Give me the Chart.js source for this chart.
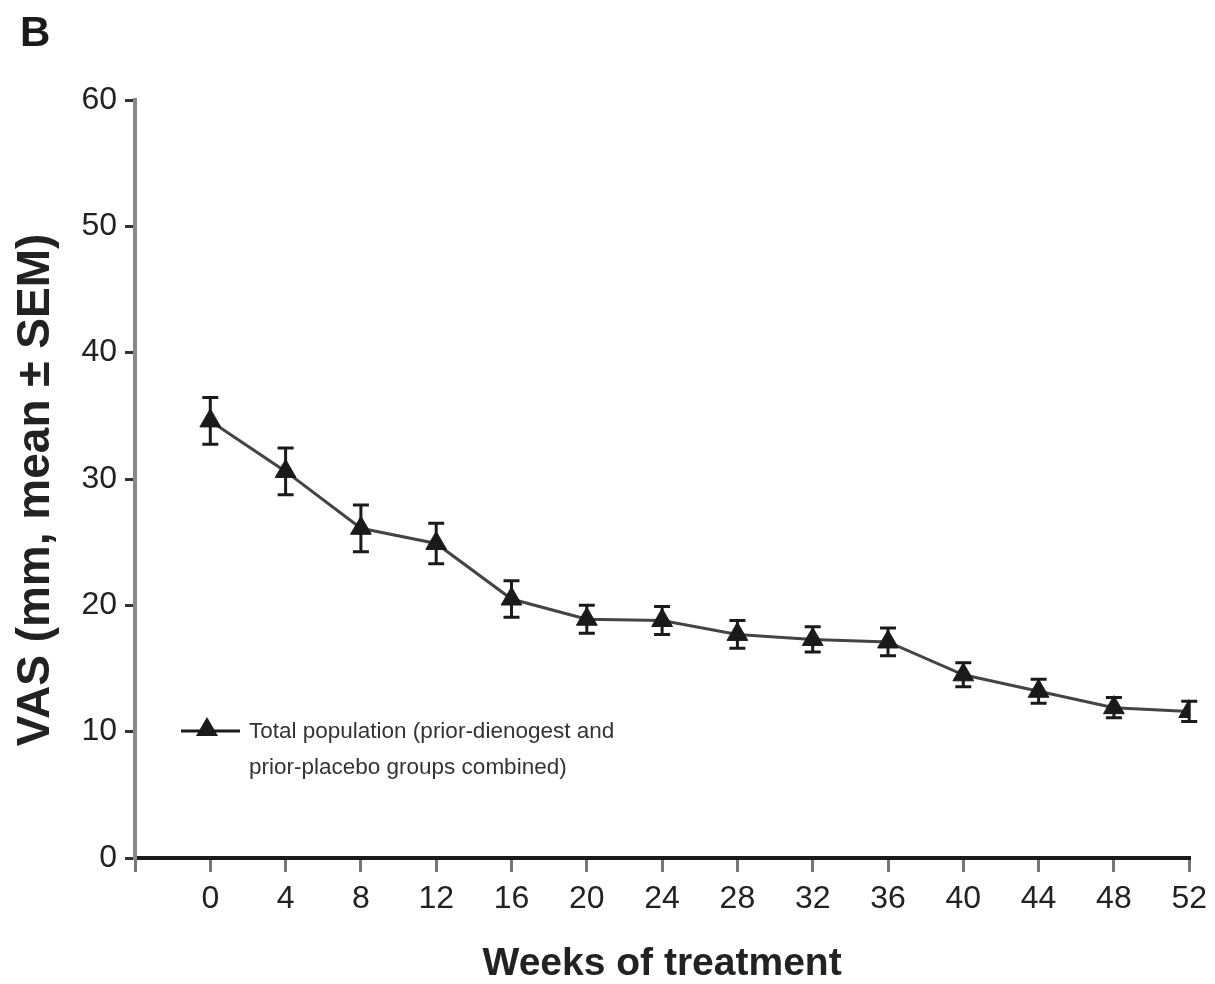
<!DOCTYPE html>
<html>
<head>
<meta charset="utf-8">
<script src="https://cdn.jsdelivr.net/npm/chart.js@4.4.1/dist/chart.umd.min.js"></script>
<style>
  html, body { margin: 0; padding: 0; background: #fff; }
  #wrap { position: relative; width: 1215px; height: 984px; }
</style>
</head>
<body>
<div id="wrap"><canvas id="myChart" width="1215" height="984"></canvas></div>
<script>
// weeks of treatment, VAS means and SEM
const weeks = [0, 4, 8, 12, 16, 20, 24, 28, 32, 36, 40, 44, 48, 52];
const vasMean = [34.6, 30.6, 26.1, 24.9, 20.5, 18.9, 18.8, 17.7, 17.3, 17.1, 14.5, 13.2, 11.9, 11.6];
const vasSem = [1.85, 1.85, 1.85, 1.6, 1.45, 1.1, 1.1, 1.1, 1.0, 1.1, 0.95, 0.95, 0.8, 0.8];
const yTicks = [0, 10, 20, 30, 40, 50, 60];
const legendLines = ['Total population (prior-dienogest and', 'prior-placebo groups combined)'];

const sans = "'Liberation Sans Narrow', 'Liberation Sans', Arial, sans-serif";

const errorBars = {
    id: 'errorBars',
    afterDatasetsDraw(chart) {
        const ctx = chart.ctx;
        const xs = chart.scales.x, ys = chart.scales.y;
        ctx.save();
        ctx.strokeStyle = '#1a1a1a';
        ctx.lineWidth = 3;
        weeks.forEach((w, i) => {
            const x = xs.getPixelForValue(w);
            const top = ys.getPixelForValue(vasMean[i] + vasSem[i]);
            const bot = ys.getPixelForValue(vasMean[i] - vasSem[i]);
            ctx.beginPath();
            ctx.moveTo(x, top); ctx.lineTo(x, bot);
            ctx.moveTo(x - 8, top); ctx.lineTo(x + 8, top);
            ctx.moveTo(x - 8, bot); ctx.lineTo(x + 8, bot);
            ctx.stroke();
        });
        ctx.restore();
    }
};

const extras = {
    id: 'extras',
    afterDraw(chart) {
        const ctx = chart.ctx;
        ctx.save();
        // panel letter
        ctx.fillStyle = '#1a1a1a';
        ctx.font = "bold 42px 'Liberation Sans', sans-serif";
        ctx.textBaseline = 'alphabetic';
        ctx.fillText('B', 20, 46);

        // y axis title, a bit below the axis centre like the original
        ctx.save();
        ctx.translate(36, 490);
        ctx.rotate(-Math.PI / 2);
        ctx.textAlign = 'center';
        ctx.textBaseline = 'middle';
        ctx.fillStyle = '#222';
        ctx.font = "bold 46px 'Liberation Sans', sans-serif";
        ctx.fillText('VAS (mm, mean ± SEM)', 0, 0);
        ctx.restore();

        // legend
        ctx.strokeStyle = '#1a1a1a';
        ctx.lineWidth = 3;
        ctx.beginPath();
        ctx.moveTo(181, 731); ctx.lineTo(240, 731);
        ctx.stroke();
        ctx.beginPath();
        ctx.moveTo(207, 717); ctx.lineTo(218, 736); ctx.lineTo(196, 736);
        ctx.closePath();
        ctx.fill();
        ctx.font = '22.5px ' + sans;
        ctx.fillStyle = '#333';
        ctx.textBaseline = 'middle';
        ctx.fillText(legendLines[0], 249, 732);
        ctx.fillText(legendLines[1], 249, 768);
        ctx.restore();
    }
};

const data = {
    datasets: [{
        label: 'Total population',
        data: weeks.map((w, i) => ({ x: w, y: vasMean[i] })),
        borderColor: '#444',
        borderWidth: 3,
        pointStyle: 'triangle',
        pointRadius: 12,
        pointBackgroundColor: '#1a1a1a',
        pointBorderColor: '#1a1a1a',
        pointBorderWidth: 1,
        tension: 0
    }]
};

const config = {
    type: 'line',
    data: data,
    options: {
        responsive: false,
        animation: false,
        layout: { padding: { top: 100, right: 20, left: 0, bottom: 0 } },
        plugins: { legend: { display: false }, tooltip: { enabled: false } },
        scales: {
            x: {
                type: 'linear',
                min: -4,
                max: 52,
                afterBuildTicks: (axis) => {
                    axis.ticks = [-4].concat(weeks).map(v => ({ value: v }));
                },
                afterFit: (axis) => { axis.height = 126; },
                ticks: {
                    callback: (v) => v < 0 ? '' : v,
                    color: '#222',
                    font: { family: sans, size: 32 },
                    padding: 8,
                    maxRotation: 0,
                    autoSkip: false
                },
                grid: { drawOnChartArea: false, tickLength: 14, color: '#777', lineWidth: 3 },
                border: { color: '#1a1a1a', width: 4 },
                title: {
                    display: true,
                    text: 'Weeks of treatment',
                    color: '#222',
                    font: { family: sans, size: 39, weight: 'bold', lineHeight: 1.0 },
                    padding: { top: 0, bottom: 0 }
                }
            },
            y: {
                min: 0,
                max: 60,
                afterBuildTicks: (axis) => {
                    axis.ticks = yTicks.map(v => ({ value: v }));
                },
                afterFit: (axis) => { axis.width = 135; },
                ticks: {
                    color: '#222',
                    font: { family: sans, size: 32 },
                    padding: 8
                },
                grid: { drawOnChartArea: false, tickLength: 10, color: '#333', lineWidth: 3 },
                border: { color: '#888', width: 4 },
                title: { display: false }
            }
        }
    },
    plugins: [errorBars, extras]
};

let myChart = new Chart(
    document.getElementById('myChart'),
    config
);
</script>
</body>
</html>
